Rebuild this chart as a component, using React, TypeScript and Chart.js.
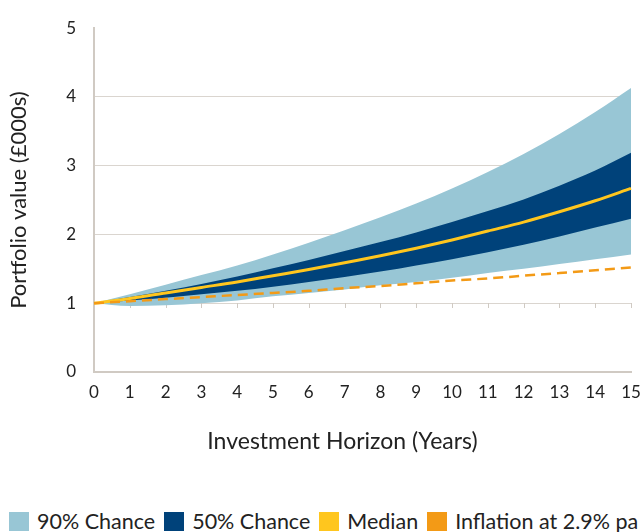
import React, { useEffect, useRef } from 'react';
import { Chart, registerables } from 'chart.js';

Chart.register(...registerables);

const years = ['0', '1', '2', '3', '4', '5', '6', '7', '8', '9', '10', '11', '12', '13', '14', '15'];
const median = [1.0, 1.07, 1.15, 1.23, 1.31, 1.4, 1.49, 1.59, 1.69, 1.8, 1.92, 2.05, 2.18, 2.33, 2.49, 2.67];
const upper90 = [1.0, 1.13, 1.27, 1.41, 1.55, 1.71, 1.88, 2.06, 2.25, 2.45, 2.67, 2.91, 3.17, 3.46, 3.78, 4.13];
const lower90 = [1.0, 0.96, 0.97, 1.0, 1.04, 1.1, 1.15, 1.2, 1.26, 1.31, 1.37, 1.44, 1.5, 1.57, 1.64, 1.71];
const upper50 = [1.0, 1.09, 1.18, 1.28, 1.39, 1.51, 1.63, 1.76, 1.89, 2.03, 2.18, 2.34, 2.51, 2.71, 2.93, 3.19];
const lower50 = [1.0, 1.04, 1.08, 1.13, 1.18, 1.24, 1.31, 1.38, 1.46, 1.55, 1.64, 1.74, 1.85, 1.97, 2.1, 2.23];
const inflation = [1.0, 1.03, 1.06, 1.09, 1.12, 1.15, 1.18, 1.22, 1.25, 1.29, 1.33, 1.36, 1.4, 1.44, 1.48, 1.52];

const X_TITLE = 'Investment Horizon (Years)';
const Y_TITLE = 'Portfolio value (£000s)';

const LIGHT = '#98C6D5';
const DARK = '#00427A';
const YELLOW = '#FFC61E';
const ORANGE = '#F39A16';
const GRID = '#DAD5CF';
const AXIS = '#D0CAC3';
const TEXT = '#222222';
const FONT = 'Lato, "Open Sans", sans-serif';

const legendItems = [
  { label: '90% Chance', color: LIGHT },
  { label: '50% Chance', color: DARK },
  { label: 'Median', color: YELLOW },
  { label: 'Inflation at 2.9% pa', color: ORANGE },
];

const axisAtOne = {
  id: 'axisAtOne',
  beforeDatasetsDraw(chart: any) {
    const xs = chart.scales.x;
    const ys = chart.scales.y;
    const yp = Math.round(ys.getPixelForValue(1));
    const ctx = chart.ctx;
    ctx.save();
    ctx.strokeStyle = AXIS;
    ctx.lineWidth = 1;
    ctx.beginPath();
    years.forEach((_, i) => {
      if (i === 0) return;
      const xp = Math.round(xs.getPixelForValue(i)) + 0.5;
      ctx.moveTo(xp, yp);
      ctx.lineTo(xp, yp + 5);
    });
    ctx.stroke();
    ctx.restore();
  },
};

const xTitle = {
  id: 'xTitle',
  afterDraw(chart: any) {
    const ctx = chart.ctx;
    const xs = chart.scales.x;
    ctx.save();
    ctx.font = `23px ${FONT}`;
    ctx.fillStyle = TEXT;
    ctx.textAlign = 'center';
    ctx.textBaseline = 'middle';
    ctx.fillText(X_TITLE, (xs.left + xs.right) / 2 - 20, xs.bottom - 28);
    ctx.restore();
  },
};

export default function App() {
  const ref = useRef<HTMLCanvasElement>(null);

  useEffect(() => {
    if (!ref.current) return;
    const band = { pointRadius: 0, borderWidth: 0, cubicInterpolationMode: 'monotone' as const };
    const chart = new Chart(ref.current, {
      type: 'line',
      data: {
        labels: years,
        datasets: [
          {
            label: 'Inflation at 2.9% pa',
            data: inflation,
            borderColor: ORANGE,
            borderWidth: 2.5,
            borderDash: [10, 6],
            pointRadius: 0,
            fill: false,
            cubicInterpolationMode: 'monotone',
          },
          {
            label: 'Median',
            data: median,
            borderColor: YELLOW,
            borderWidth: 3,
            pointRadius: 0,
            fill: false,
            cubicInterpolationMode: 'monotone',
          },
          { label: '50% upper', data: upper50, ...band, backgroundColor: DARK, fill: '+1' },
          { label: '50% lower', data: lower50, ...band, fill: false },
          { label: '90% upper', data: upper90, ...band, backgroundColor: LIGHT, fill: '+1' },
          { label: '90% lower', data: lower90, ...band, fill: false },
        ],
      },
      options: {
        animation: false,
        responsive: false,
        maintainAspectRatio: false,
        layout: { padding: { top: 22, right: 9, left: 0, bottom: 0 } },
        plugins: { legend: { display: false }, tooltip: { enabled: false } },
        scales: {
          x: {
            grid: { drawOnChartArea: false, drawTicks: false },
            border: { display: true, color: AXIS, width: 2 },
            ticks: { color: TEXT, font: { family: FONT, size: 17 }, padding: 10, maxRotation: 0, autoSkip: false },
            title: { display: false },
            afterFit: (s: any) => {
              s.height = 98;
              s.paddingLeft = 0;
              s.paddingRight = 0;
            },
          },
          y: {
            min: 0,
            max: 5,
            ticks: { stepSize: 1, color: TEXT, font: { family: FONT, size: 17 }, padding: 18 },
            grid: {
              drawTicks: false,
              color: (c: any) => (c.tick && c.tick.value === 5 ? 'rgba(0,0,0,0)' : c.tick && c.tick.value === 0 ? AXIS : GRID),
              lineWidth: (c: any) => (c.tick && c.tick.value === 0 ? 2 : 1),
            },
            border: { display: true, color: AXIS, width: 2 },
            title: {
              display: true,
              text: Y_TITLE,
              color: TEXT,
              font: { family: FONT, size: 22 },
              padding: { top: 6, bottom: 0 },
            },
            afterFit: (s: any) => {
              s.width = 94;
            },
          },
        },
      },
      plugins: [axisAtOne, xTitle],
    });
    return () => chart.destroy();
  }, []);

  return (
    <div style={{ position: 'fixed', left: 0, top: 0, width: 640, height: 532, overflow: 'hidden', background: '#fff' }}>
      <canvas ref={ref} width={640} height={470} style={{ display: 'block', width: 640, height: 470 }} />
      <div
        style={{
          position: 'absolute',
          left: 9,
          top: 512,
          display: 'flex',
          alignItems: 'center',
          whiteSpace: 'nowrap',
          fontFamily: FONT,
          fontSize: 21.5,
          color: TEXT,
          lineHeight: '19px',
        }}
      >
        {legendItems.map((it) => (
          <div key={it.label} style={{ display: 'flex', alignItems: 'center', marginRight: 9 }}>
            <span style={{ display: 'inline-block', width: 20, height: 19, background: it.color, marginRight: 8 }} />
            <span>{it.label}</span>
          </div>
        ))}
      </div>
    </div>
  );
}
